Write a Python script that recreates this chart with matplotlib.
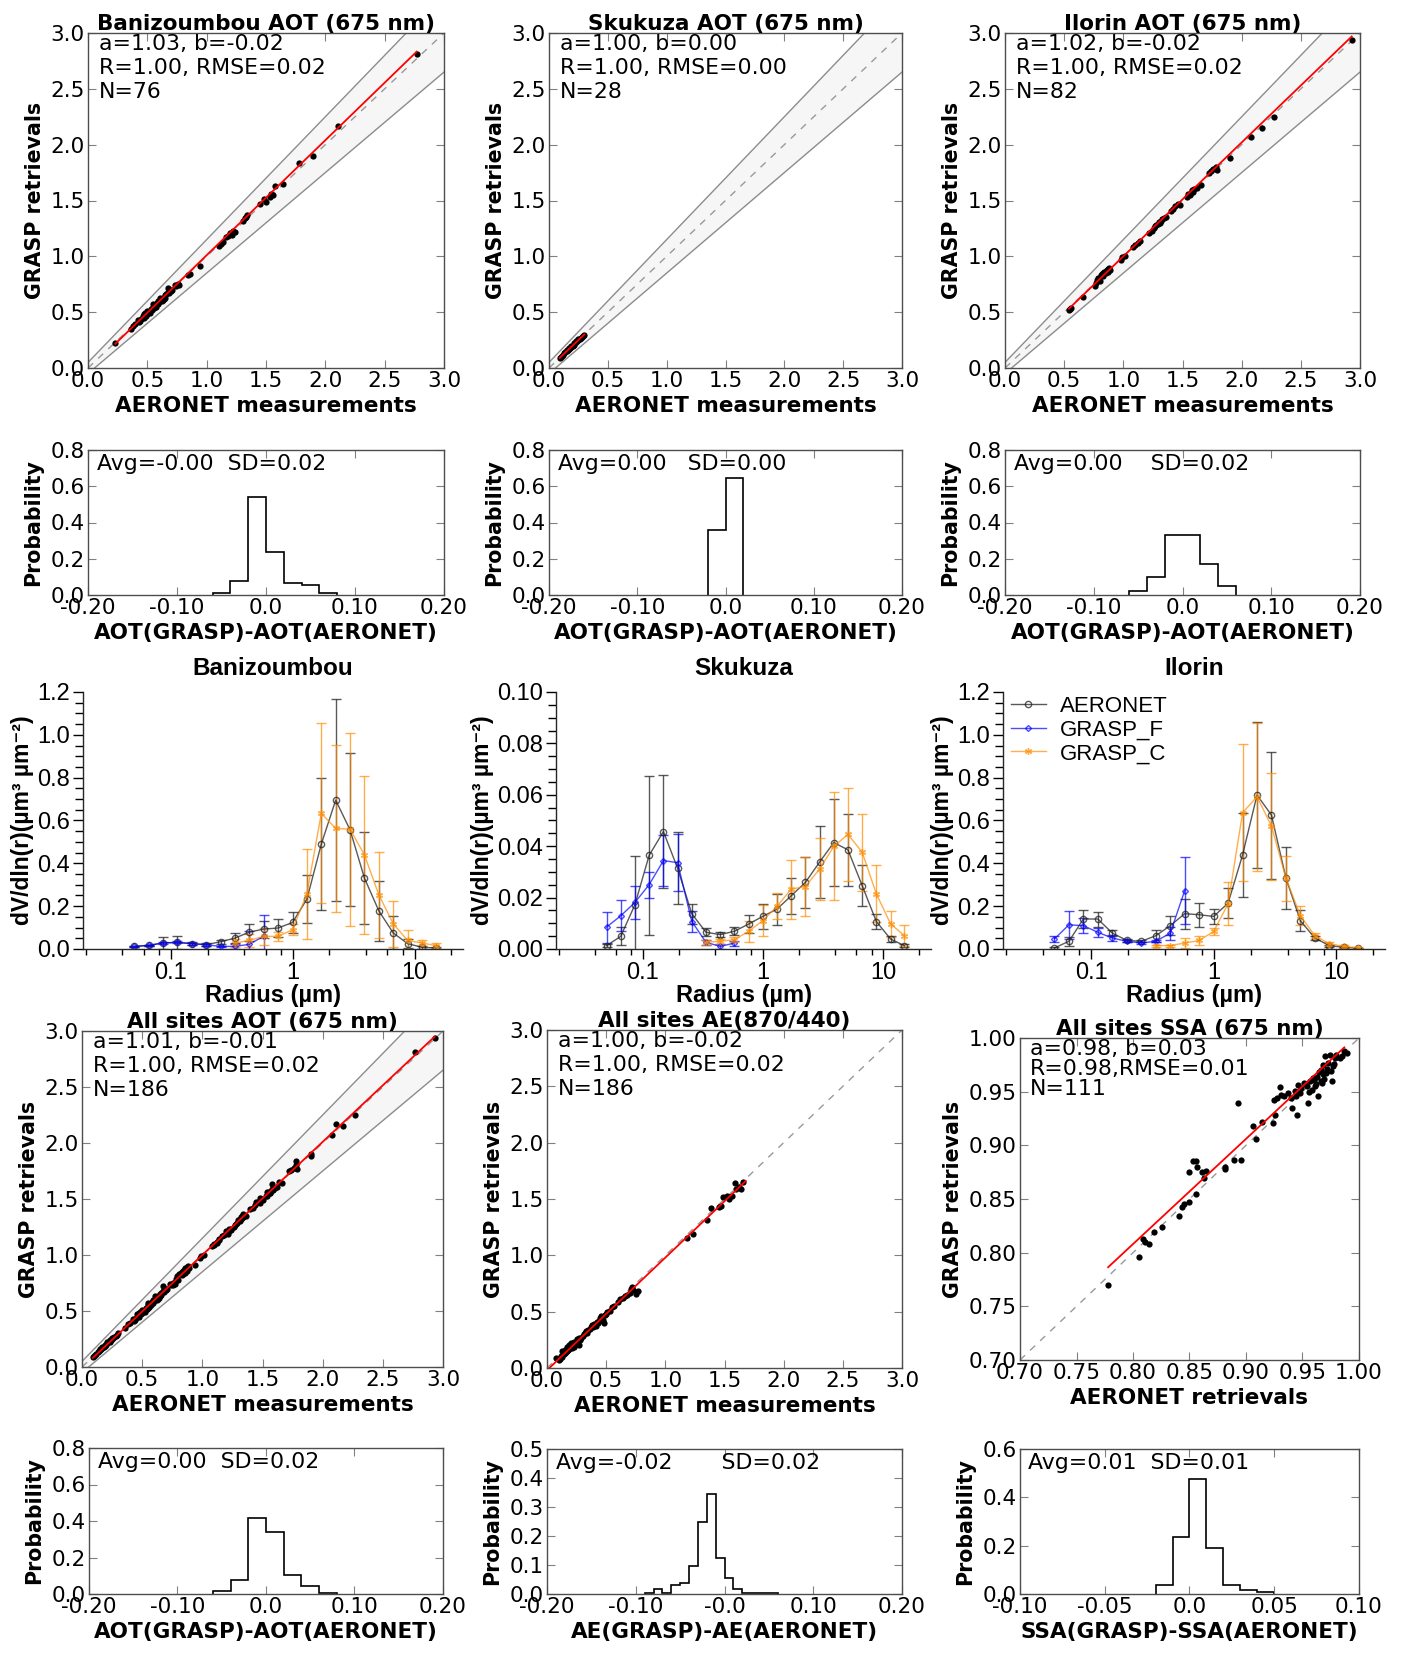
import numpy as np
import matplotlib
matplotlib.use("Agg")
import matplotlib.pyplot as plt
from matplotlib.ticker import FixedLocator, FixedFormatter, LogLocator, NullFormatter, MultipleLocator

# ---------------- data ----------------
bani_x = [0.23,0.36,0.38,0.40,0.42,0.43,0.44,0.45,0.46,0.47,
          0.47,0.48,0.49,0.50,0.50,0.51,0.52,0.52,0.53,0.54,
          0.55,0.55,0.56,0.57,0.57,0.58,0.59,0.59,0.60,0.61,
          0.61,0.62,0.63,0.63,0.64,0.65,0.65,0.66,0.67,0.67,
          0.68,0.69,0.70,0.71,0.73,0.74,0.76,0.77,0.84,0.86,
          0.94,1.10,1.12,1.14,1.16,1.18,1.20,1.21,1.22,1.24,
          1.31,1.32,1.33,1.34,1.45,1.48,1.50,1.53,1.54,1.56,
          1.58,1.64,1.78,1.90,2.11,2.77]
bani_y = [0.22,0.35,0.38,0.39,0.43,0.41,0.42,0.44,0.47,0.45,
          0.48,0.49,0.47,0.48,0.51,0.50,0.51,0.49,0.53,0.52,
          0.55,0.57,0.54,0.57,0.55,0.58,0.60,0.57,0.59,0.61,
          0.63,0.60,0.63,0.61,0.62,0.65,0.63,0.66,0.72,0.68,
          0.67,0.70,0.69,0.70,0.74,0.73,0.75,0.74,0.83,0.84,
          0.91,1.09,1.11,1.13,1.17,1.18,1.21,1.19,1.23,1.22,
          1.32,1.34,1.35,1.37,1.47,1.51,1.49,1.53,1.56,1.55,
          1.63,1.65,1.84,1.90,2.17,2.81]

skuk_x = [0.09,0.10,0.11,0.12,0.13,0.14,0.15,0.15,0.16,0.17,
          0.17,0.18,0.19,0.19,0.20,0.21,0.21,0.22,0.23,0.23,
          0.24,0.25,0.25,0.26,0.27,0.28,0.29,0.30]
skuk_y = [0.09,0.10,0.11,0.12,0.13,0.14,0.15,0.16,0.16,0.17,
          0.18,0.18,0.19,0.20,0.20,0.21,0.22,0.22,0.23,0.24,
          0.24,0.25,0.26,0.26,0.27,0.28,0.29,0.30]

ilor_x = [0.54,0.55,0.56,0.66,0.76,0.77,0.78,0.79,0.80,0.81,
          0.82,0.83,0.83,0.84,0.85,0.85,0.86,0.87,0.87,0.88,
          0.89,0.98,0.99,1.01,1.08,1.10,1.12,1.14,1.22,1.24,
          1.26,1.27,1.28,1.29,1.30,1.31,1.32,1.33,1.34,1.36,
          1.40,1.42,1.44,1.46,1.48,1.54,1.55,1.56,1.57,1.58,
          1.59,1.60,1.62,1.66,1.72,1.74,1.76,1.78,1.79,1.90,
          2.08,2.17,2.27,2.93]
ilor_y = [0.52,0.53,0.54,0.64,0.73,0.76,0.79,0.81,0.78,0.83,
          0.84,0.82,0.85,0.86,0.85,0.87,0.88,0.86,0.89,0.90,
          0.88,0.97,0.99,1.00,1.08,1.10,1.12,1.14,1.21,1.23,
          1.25,1.27,1.28,1.29,1.31,1.30,1.32,1.33,1.34,1.35,
          1.41,1.42,1.45,1.47,1.46,1.53,1.56,1.55,1.57,1.59,
          1.58,1.60,1.61,1.64,1.75,1.76,1.78,1.80,1.77,1.88,
          2.07,2.15,2.25,2.94]

ae_x = [0.08,0.10,0.11,0.12,0.13,0.13,0.14,0.15,0.15,0.16,
        0.17,0.17,0.18,0.19,0.19,0.20,0.21,0.21,0.22,0.23,
        0.23,0.24,0.25,0.25,0.26,0.27,0.27,0.28,0.29,0.30,
        0.31,0.32,0.33,0.34,0.35,0.36,0.37,0.38,0.39,0.40,
        0.41,0.42,0.43,0.44,0.45,0.46,0.47,0.48,0.49,0.50,
        0.51,0.53,0.55,0.57,0.60,0.62,0.64,0.66,0.68,0.70,
        0.71,0.72,0.73,0.75,0.77,1.18,1.23,1.35,1.39,1.45,
        1.47,1.49,1.52,1.54,1.56,1.59,1.60,1.62,1.64,1.66]
ae_y = [0.09,0.07,0.08,0.11,0.10,0.15,0.12,0.13,0.16,0.14,
        0.15,0.19,0.16,0.20,0.17,0.22,0.18,0.20,0.21,0.19,
        0.23,0.22,0.26,0.21,0.24,0.20,0.27,0.25,0.27,0.28,
        0.30,0.31,0.33,0.31,0.34,0.35,0.36,0.38,0.36,0.39,
        0.37,0.41,0.40,0.42,0.44,0.46,0.43,0.40,0.47,0.48,
        0.50,0.51,0.54,0.55,0.59,0.61,0.62,0.64,0.65,0.67,
        0.70,0.72,0.69,0.66,0.68,1.15,1.19,1.31,1.42,1.43,
        1.44,1.52,1.53,1.50,1.53,1.64,1.59,1.61,1.59,1.65]

ssa_x = [0.778,0.805,0.809,0.811,0.814,0.819,0.826,0.841,0.843,0.845,
         0.850,0.856,0.850,0.853,0.856,0.857,0.861,0.863,0.865,0.881,
         0.881,0.889,0.896,0.893,0.906,0.909,0.914,0.924,0.926,0.925,
         0.927,0.930,0.931,0.934,0.937,0.940,0.941,0.944,0.945,0.946,
         0.949,0.951,0.954,0.955,0.957,0.958,0.960,0.961,0.963,0.964,
         0.966,0.966,0.967,0.968,0.968,0.970,0.971,0.973,0.974,0.976,
         0.977,0.979,0.980,0.983,0.985,0.987,0.989,0.943,0.948,0.952,
         0.956,0.959,0.962,0.965,0.969,0.972,0.975,0.978]
ssa_y = [0.770,0.796,0.813,0.810,0.808,0.819,0.824,0.834,0.843,0.845,
         0.847,0.855,0.875,0.885,0.885,0.880,0.875,0.870,0.876,0.880,
         0.878,0.886,0.886,0.939,0.918,0.906,0.922,0.921,0.928,0.942,
         0.944,0.954,0.947,0.946,0.949,0.944,0.935,0.946,0.928,0.956,
         0.953,0.958,0.955,0.939,0.960,0.952,0.961,0.955,0.964,0.946,
         0.960,0.970,0.958,0.966,0.975,0.983,0.967,0.977,0.984,0.960,
         0.974,0.981,0.984,0.981,0.983,0.988,0.986,0.951,0.949,0.957,
         0.950,0.963,0.957,0.968,0.962,0.971,0.969,0.976]

all_x = bani_x + skuk_x + ilor_x
all_y = bani_y + skuk_y + ilor_y

# regression coefficients (a, b) and x-span of the drawn fit line
bani_fit, bani_span = (1.03, -0.02), (0.23, 2.77)
skuk_fit, skuk_span = (1.00, 0.00), (0.09, 0.30)
ilor_fit, ilor_span = (1.02, -0.02), (0.54, 2.93)
all_fit, all_span = (1.01, -0.01), (0.09, 2.93)
ae_fit, ae_span = (1.00, -0.02), (0.02, 1.68)
ssa_fit, ssa_span = (0.98, 0.024), (0.778, 0.987)

# histograms (bin edges, probability)
bani_h_edges = [-0.06, -0.04, -0.02, 0.0, 0.02, 0.04, 0.06, 0.08]
bani_h_prob = [0.013, 0.079, 0.539, 0.237, 0.066, 0.053, 0.013]
skuk_h_edges = [-0.02, 0.0, 0.02]
skuk_h_prob = [0.357, 0.643]
ilor_h_edges = [-0.06, -0.04, -0.02, 0.0, 0.02, 0.04, 0.06]
ilor_h_prob = [0.024, 0.098, 0.329, 0.329, 0.171, 0.049]
all_h_edges = [-0.06, -0.04, -0.02, 0.0, 0.02, 0.04, 0.06, 0.08]
all_h_prob = [0.016, 0.075, 0.419, 0.339, 0.102, 0.043, 0.005]
ae_h_edges = [-0.09, -0.08, -0.07, -0.06, -0.05, -0.04, -0.03, -0.02, -0.01,
              0.0, 0.01, 0.02, 0.03, 0.04, 0.05, 0.06]
ae_h_prob = [0.005, 0.016, 0.005, 0.032, 0.038, 0.097, 0.247, 0.344, 0.124,
             0.054, 0.016, 0.005, 0.005, 0.005, 0.005]
ssa_h_edges = [-0.02, -0.01, 0.0, 0.01, 0.02, 0.03, 0.04, 0.05]
ssa_h_prob = [0.036, 0.234, 0.477, 0.189, 0.036, 0.018, 0.009]

# size distributions
radius = [0.05, 0.0656, 0.0861, 0.113, 0.1487, 0.1951, 0.2561, 0.3361, 0.4411,
          0.5789, 0.7598, 0.9971, 1.3086, 1.7175, 2.2540, 2.9582, 3.8823,
          5.0950, 6.6866, 8.7754, 11.5167, 15.0]
# GRASP_F covers the first 10 radii, GRASP_C the last 15 radii
bani_aer = [0.012,0.017,0.028,0.031,0.025,0.020,0.034,0.051,0.079,0.093,0.098,
            0.124,0.233,0.490,0.695,0.556,0.331,0.178,0.075,0.025,0.008,0.005]
bani_aer_e = [0.003,0.004,0.03,0.03,0.008,0.006,0.01,0.025,0.04,0.04,0.04,
              0.05,0.113,0.31,0.47,0.357,0.216,0.14,0.077,0.02,0.008,0.005]
bani_f = [0.012,0.017,0.028,0.031,0.025,0.020,0.012,0.012,0.022,0.060]
bani_f_e = [0.004,0.004,0.005,0.005,0.004,0.004,0.004,0.01,0.06,0.10]
bani_c = [0.028,0.040,0.059,0.059,0.090,0.258,0.633,0.563,0.559,0.439,0.253,
          0.118,0.040,0.028,0.016]
bani_c_e = [0.02,0.03,0.04,0.02,0.025,0.21,0.42,0.39,0.45,0.37,0.2,0.107,
            0.047,0.015,0.01]

skuk_aer = [0.0013,0.0049,0.0172,0.0364,0.0457,0.0314,0.0137,0.0065,0.0056,
            0.0069,0.0097,0.0127,0.0155,0.0207,0.0259,0.0338,0.0414,0.0386,
            0.0247,0.0107,0.0039,0.0013]
skuk_aer_e = [0.0005,0.0035,0.019,0.031,0.022,0.014,0.004,0.0015,0.001,0.0015,
              0.0035,0.005,0.006,0.007,0.01,0.014,0.017,0.014,0.008,0.003,
              0.001,0.0005]
skuk_f = [0.0085,0.0129,0.0181,0.025,0.0344,0.0336,0.0107,0.0026,0.001,0.0023]
skuk_f_e = [0.006,0.006,0.0066,0.005,0.01,0.011,0.004,0.001,0.001,0.001]
skuk_c = [0.0026,0.003,0.0036,0.0069,0.011,0.0166,0.0233,0.0243,0.0311,0.0399,
          0.0446,0.0377,0.0215,0.0098,0.0052]
skuk_c_e = [0.001,0.001,0.001,0.004,0.006,0.005,0.0115,0.0115,0.012,0.021,
            0.018,0.015,0.011,0.005,0.004]

ilor_aer = [0.005,0.036,0.14,0.14,0.074,0.04,0.036,0.062,0.109,0.165,0.16,
            0.152,0.214,0.439,0.719,0.625,0.331,0.132,0.051,0.016,0.008,0.004]
ilor_aer_e = [0.003,0.02,0.04,0.035,0.015,0.005,0.005,0.028,0.045,0.07,0.055,
              0.035,0.07,0.195,0.34,0.296,0.146,0.05,0.01,0.005,0.003,0.002]
ilor_f = [0.047,0.113,0.109,0.078,0.051,0.036,0.028,0.036,0.074,0.273]
ilor_f_e = [0.015,0.065,0.035,0.02,0.015,0.005,0.005,0.005,0.03,0.155]
ilor_c = [0.016,0.016,0.028,0.04,0.082,0.211,0.636,0.711,0.574,0.331,0.155,
          0.062,0.025,0.012,0.006]
ilor_c_e = [0.005,0.005,0.025,0.02,0.015,0.1,0.32,0.345,0.25,0.105,0.045,
            0.015,0.01,0.005,0.003]

# expected-error envelope for AOT: +/-(0.05 + 0.10*AOT)
ENV_ABS, ENV_REL = 0.05, 0.10

# ---------------- figure ----------------
plt.rcParams['font.family'] = ['DejaVu Sans']
W, H = 1407, 1659
fig = plt.figure(figsize=(W / 100, H / 100), dpi=100)
fig.patch.set_facecolor('white')


def rect(l, t, r, b):
    return [l / W, 1 - b / H, (r - l) / W, (b - t) / H]


TICK = 15.5
LAB = 15.5
YLAB = 14.8
TXT = 15.8
SD_FONT = ['Liberation Sans', 'DejaVu Sans']


def classic(ax):
    for s in ax.spines.values():
        s.set_color('0.3')
        s.set_linewidth(1.0)
    ax.tick_params(direction='in', top=True, right=True, length=6, width=0.8,
                   color='0.5', labelsize=TICK, pad=2.5)


def scatter_panel(r, x, y, fit, span, title, txt, lim, ticks, fmt, xlabel, envelope,
                  lsp=1.25):
    ax = fig.add_axes(rect(*r))
    classic(ax)
    lo, hi = lim
    if envelope:
        ex = np.array([lo, hi])
        up = ex + (ENV_ABS + ENV_REL * ex)
        dn = ex - (ENV_ABS + ENV_REL * ex)
        ax.fill_between(ex, dn, up, color='0.965', lw=0)
        ax.plot(ex, up, color='0.55', lw=1)
        ax.plot(ex, dn, color='0.55', lw=1)
    ax.plot([lo, hi], [lo, hi], color='0.6', lw=1, ls=(0, (5, 5)))
    ax.plot(x, y, 'o', color='k', ms=4.5, mew=0)
    fx = np.array(span)
    ax.plot(fx, fit[0] * fx + fit[1], color='red', lw=1.3)
    ax.set_xlim(lim)
    ax.set_ylim(lim)
    ax.set_xticks(ticks)
    ax.set_yticks(ticks)
    ax.set_xticklabels([fmt % t for t in ticks])
    ax.set_yticklabels([fmt % t for t in ticks])
    ax.set_title(title, fontsize=LAB, fontweight='bold', pad=2)
    ax.set_xlabel(xlabel, fontsize=LAB, fontweight='bold', labelpad=3)
    ax.set_ylabel('GRASP retrievals', fontsize=YLAB, fontweight='bold', labelpad=4)
    ax.text(0.03, 0.998, txt, transform=ax.transAxes, va='top', ha='left',
            fontsize=TXT, linespacing=lsp)
    return ax


def hist_panel(r, edges, probs, xlim, xticks, xtl, ylim, yticks, txt, xlabel):
    ax = fig.add_axes(rect(*r))
    classic(ax)
    ax.stairs(probs, edges, color='k', lw=1.2, baseline=0)
    ax.set_xlim(xlim)
    ax.set_ylim(ylim)
    ax.set_xticks(xticks)
    ax.set_xticklabels(xtl)
    ax.set_yticks(yticks)
    ax.set_yticklabels(['%.1f' % t for t in yticks])
    ax.set_xlabel(xlabel, fontsize=LAB, fontweight='bold', labelpad=3)
    ax.set_ylabel('Probability', fontsize=YLAB, fontweight='bold', labelpad=5)
    ax.text(0.025, 0.975, txt, transform=ax.transAxes, va='top', ha='left',
            fontsize=TXT)
    return ax


def sd_panel(r, title, aer, aer_e, f, f_e, c, c_e, ylim, yticks, yfmt, yminor, legend=False):
    ax = fig.add_axes(rect(*r))
    ax.spines['top'].set_visible(False)
    ax.spines['right'].set_visible(False)
    for s in ('left', 'bottom'):
        ax.spines[s].set_color('0.15')
        ax.spines[s].set_linewidth(1.0)
    ax.set_xscale('log')
    rad = np.array(radius)
    h1 = ax.errorbar(rad, aer, yerr=aer_e, color='#222222', marker='o', mfc='none',
                     ms=4.5, mew=1, lw=1, elinewidth=1, capsize=3.5, alpha=0.75)
    h2 = ax.errorbar(rad[:len(f)], f, yerr=f_e, color='#0000ff', marker='D', mfc='none',
                     ms=3, mew=1, lw=1, elinewidth=1, capsize=3.5, alpha=0.7)
    h3 = ax.errorbar(rad[-len(c):], c, yerr=c_e, color='#ff8c00', marker=(6, 2, 0),
                     ms=5, mew=1, lw=1, elinewidth=1, capsize=3.5, alpha=0.7)
    ax.set_xlim(0.019, 25)
    ax.set_ylim(ylim)
    ax.xaxis.set_major_locator(FixedLocator([0.1, 1, 10]))
    ax.xaxis.set_major_formatter(FixedFormatter(['0.1', '1', '10']))
    ax.xaxis.set_minor_locator(LogLocator(base=10, subs=(2.0, 4.0, 6.0, 8.0), numticks=20))
    ax.xaxis.set_minor_formatter(NullFormatter())
    ax.set_yticks(yticks)
    ax.set_yticklabels([yfmt % t for t in yticks])
    ax.yaxis.set_minor_locator(MultipleLocator(yminor))
    ax.tick_params(which='major', direction='out', length=7, width=1, labelsize=17,
                   pad=2.5, labelfontfamily='Liberation Sans')
    ax.tick_params(axis='x', which='minor', direction='out', length=4, width=1)
    ax.tick_params(axis='y', which='minor', direction='out', length=6, width=1)
    ax.set_title(title, fontsize=17.5, fontweight='bold', family=SD_FONT, pad=12)
    ax.set_xlabel('Radius (µm)', fontsize=17, fontweight='bold', family=SD_FONT, labelpad=0)
    ax.set_ylabel('dV/dln(r)(µm³ µm⁻²)', fontsize=16.5, fontweight='bold',
                  family=SD_FONT, labelpad=2)
    if legend:
        ax.legend([h1[0], h2[0], h3[0]], ['AERONET', 'GRASP_F', 'GRASP_C'],
                  loc='upper left', bbox_to_anchor=(0.02, 0.985), frameon=False,
                  prop={'family': SD_FONT, 'size': 16}, handlelength=1.6,
                  handletextpad=0.6, labelspacing=0.12, borderpad=0, borderaxespad=0)
    return ax


aot_ticks = [0.0, 0.5, 1.0, 1.5, 2.0, 2.5, 3.0]
ssa_ticks = [0.70, 0.75, 0.80, 0.85, 0.90, 0.95, 1.00]
h_ticks = [-0.2, -0.1, 0.0, 0.1, 0.2]
h_tl = ['-0.20', '-0.10', '0.0', '0.10', '0.20']

# row 1
scatter_panel((88, 33, 444, 368), bani_x, bani_y, bani_fit, bani_span,
              'Banizoumbou AOT (675 nm)', 'a=1.03, b=-0.02\nR=1.00, RMSE=0.02\nN=76',
              (0, 3), aot_ticks, '%.1f', 'AERONET measurements', True)
scatter_panel((549, 33, 902, 368), skuk_x, skuk_y, skuk_fit, skuk_span,
              'Skukuza AOT (675 nm)', 'a=1.00, b=0.00\nR=1.00, RMSE=0.00\nN=28',
              (0, 3), aot_ticks, '%.1f', 'AERONET measurements', True)
scatter_panel((1005, 33, 1360, 368), ilor_x, ilor_y, ilor_fit, ilor_span,
              'Ilorin AOT (675 nm)', 'a=1.02, b=-0.02\nR=1.00, RMSE=0.02\nN=82',
              (0, 3), aot_ticks, '%.1f', 'AERONET measurements', True)

# row 2
hist_panel((88, 450, 444, 595), bani_h_edges, bani_h_prob, (-0.2, 0.2), h_ticks, h_tl,
           (0, 0.8), [0, 0.2, 0.4, 0.6, 0.8], 'Avg=-0.00  SD=0.02', 'AOT(GRASP)-AOT(AERONET)')
hist_panel((549, 450, 902, 595), skuk_h_edges, skuk_h_prob, (-0.2, 0.2), h_ticks, h_tl,
           (0, 0.8), [0, 0.2, 0.4, 0.6, 0.8], 'Avg=0.00   SD=0.00', 'AOT(GRASP)-AOT(AERONET)')
hist_panel((1005, 450, 1360, 595), ilor_h_edges, ilor_h_prob, (-0.2, 0.2), h_ticks, h_tl,
           (0, 0.8), [0, 0.2, 0.4, 0.6, 0.8], 'Avg=0.00    SD=0.02', 'AOT(GRASP)-AOT(AERONET)')

# row 3
sd_panel((83, 692, 463, 949), 'Banizoumbou', bani_aer, bani_aer_e, bani_f, bani_f_e,
         bani_c, bani_c_e, (0, 1.2), [0, 0.2, 0.4, 0.6, 0.8, 1.0, 1.2], '%.1f', 0.05)
sd_panel((556, 692, 931, 949), 'Skukuza', skuk_aer, skuk_aer_e, skuk_f, skuk_f_e,
         skuk_c, skuk_c_e, (0, 0.10), [0, 0.02, 0.04, 0.06, 0.08, 0.10], '%.2f', 0.005)
sd_panel((1003, 692, 1385, 949), 'Ilorin', ilor_aer, ilor_aer_e, ilor_f, ilor_f_e,
         ilor_c, ilor_c_e, (0, 1.2), [0, 0.2, 0.4, 0.6, 0.8, 1.0, 1.2], '%.1f', 0.05,
         legend=True)

# row 4
scatter_panel((82, 1031, 443, 1367), all_x, all_y, all_fit, all_span,
              'All sites AOT (675 nm)', 'a=1.01, b=-0.01\nR=1.00, RMSE=0.02\nN=186',
              (0, 3), aot_ticks, '%.1f', 'AERONET measurements', True)
scatter_panel((547, 1030, 902, 1368), ae_x, ae_y, ae_fit, ae_span,
              'All sites AE(870/440)', 'a=1.00, b=-0.02\nR=1.00, RMSE=0.02\nN=186',
              (0, 3), aot_ticks, '%.1f', 'AERONET measurements', False)
scatter_panel((1020, 1038, 1359, 1360), ssa_x, ssa_y, ssa_fit, ssa_span,
              'All sites SSA (675 nm)', 'a=0.98, b=0.03\nR=0.98,RMSE=0.01\nN=111',
              (0.7, 1.0), ssa_ticks, '%.2f', 'AERONET retrievals', False, lsp=1.02)

# row 5
hist_panel((89, 1448, 443, 1594), all_h_edges, all_h_prob, (-0.2, 0.2), h_ticks, h_tl,
           (0, 0.8), [0, 0.2, 0.4, 0.6, 0.8], 'Avg=0.00  SD=0.02', 'AOT(GRASP)-AOT(AERONET)')
hist_panel((547, 1449, 902, 1594), ae_h_edges, ae_h_prob, (-0.2, 0.2), h_ticks,
           ['-0.20', '-0.10', '-0.0', '0.10', '0.20'],
           (0, 0.5), [0, 0.1, 0.2, 0.3, 0.4, 0.5], 'Avg=-0.02       SD=0.02',
           'AE(GRASP)-AE(AERONET)')
hist_panel((1020, 1449, 1359, 1594), ssa_h_edges, ssa_h_prob, (-0.1, 0.1),
           [-0.1, -0.05, 0.0, 0.05, 0.1], ['-0.10', '-0.05', '0.0', '0.05', '0.10'],
           (0, 0.6), [0, 0.2, 0.4, 0.6], 'Avg=0.01  SD=0.01', 'SSA(GRASP)-SSA(AERONET)')

fig.savefig('out.png', dpi=100, facecolor='white')
